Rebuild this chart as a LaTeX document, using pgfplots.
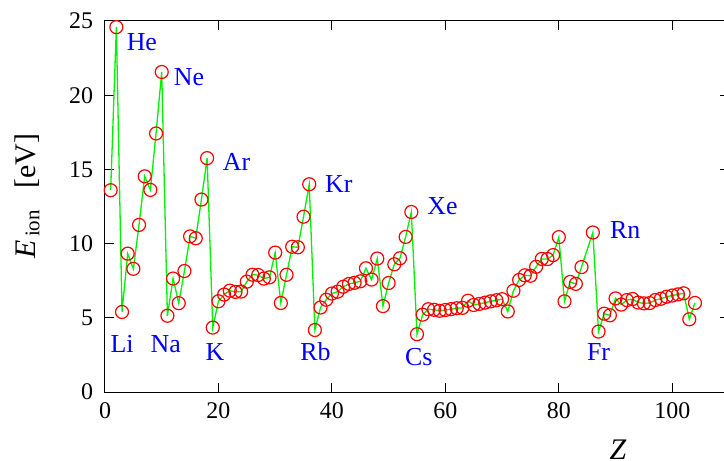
\documentclass[border=0pt]{standalone}
\usepackage{fontspec}
\setmainfont{Liberation Serif}
\usepackage{pgfplots}
\pgfplotsset{compat=1.18}
\usepackage{pgfplotstable}
\pgfplotstableread{
Z E
1 13.598
2 24.587
3 5.392
4 9.323
5 8.298
6 11.260
7 14.534
8 13.618
9 17.423
10 21.565
11 5.139
12 7.646
13 5.986
14 8.152
15 10.487
16 10.360
17 12.968
18 15.760
19 4.341
20 6.113
21 6.561
22 6.828
23 6.746
24 6.767
25 7.434
26 7.902
27 7.881
28 7.640
29 7.726
30 9.394
31 5.999
32 7.900
33 9.789
34 9.752
35 11.814
36 14.000
37 4.177
38 5.695
39 6.217
40 6.634
41 6.759
42 7.092
43 7.28
44 7.361
45 7.459
46 8.337
47 7.576
48 8.994
49 5.786
50 7.344
51 8.608
52 9.010
53 10.451
54 12.130
55 3.894
56 5.212
57 5.577
58 5.539
59 5.473
60 5.525
61 5.582
62 5.644
63 5.670
64 6.150
65 5.864
66 5.939
67 6.022
68 6.108
69 6.184
70 6.254
71 5.426
72 6.825
73 7.550
74 7.864
75 7.834
76 8.438
77 8.967
78 8.959
79 9.226
80 10.438
81 6.108
82 7.417
83 7.286
84 8.417
86 10.749
87 4.073
88 5.278
89 5.17
90 6.307
91 5.89
92 6.194
93 6.266
94 6.026
95 5.974
96 5.991
97 6.198
98 6.282
99 6.42
100 6.50
101 6.58
102 6.65
103 4.9
104 6.0
}\iontable
\definecolor{lgreen}{rgb}{0,0.95,0}
\begin{document}
\begin{tikzpicture}
\begin{axis}[
  scale only axis, width=312bp, height=185.5bp,
  xmin=0, xmax=110, ymin=0, ymax=25,
  xtick={0,20,...,100}, ytick={0,5,...,25},
  tick align=inside, major tick length=4.5bp,
  axis line style={line width=0.5bp},
  every tick/.style={black, line width=0.5bp},
  tick label style={font=\rmfamily\fontsize{12}{14}\selectfont},
  xticklabel style={yshift=-2bp},
  yticklabel style={xshift=-2.5bp},
  /pgf/number format/assume math mode=true,
  xlabel={\textit{Z}},
  xlabel style={at={(rel axis cs:0.822,0)}, anchor=base, yshift=-33.5bp, font=\rmfamily\fontsize{15}{18}\selectfont},
  ylabel={\textit{E}\textsubscript{\,ion}\hspace{0.7em}[eV]},
  ylabel style={at={(rel axis cs:0,0.528)}, anchor=center, yshift=39bp, font=\rmfamily\fontsize{15}{18}\selectfont},
]
\addplot[only marks, mark=o, mark size=3.25bp, red, mark options={line width=0.6bp}] table {\iontable};
\addplot[lgreen, line width=0.65bp, no marks] table {\iontable};
\tikzset{lab/.style={text=blue, font=\rmfamily\fontsize{13}{15}\selectfont, inner sep=0pt}}
\node[lab] at (axis cs:6.5,23.6) {He};
\node[lab] at (axis cs:14.8,21.2) {Ne};
\node[lab] at (axis cs:23.2,15.5) {Ar};
\node[lab] at (axis cs:41.2,14.0) {Kr};
\node[lab] at (axis cs:59.5,12.5) {Xe};
\node[lab] at (axis cs:91.7,10.9) {Rn};
\node[lab] at (axis cs:3.0,3.23) {Li};
\node[lab] at (axis cs:10.7,3.23) {Na};
\node[lab] at (axis cs:19.4,2.7) {K};
\node[lab] at (axis cs:37.1,2.7) {Rb};
\node[lab] at (axis cs:55.3,2.36) {Cs};
\node[lab] at (axis cs:87.0,2.7) {Fr};
\end{axis}
\pgfresetboundingbox
\path[use as bounding box] ([xshift=-52.5bp, yshift=-34.5bp]current axis.south west) rectangle ([xshift=-2.5bp, yshift=10.5bp]current axis.north east);
\end{tikzpicture}
\end{document}
